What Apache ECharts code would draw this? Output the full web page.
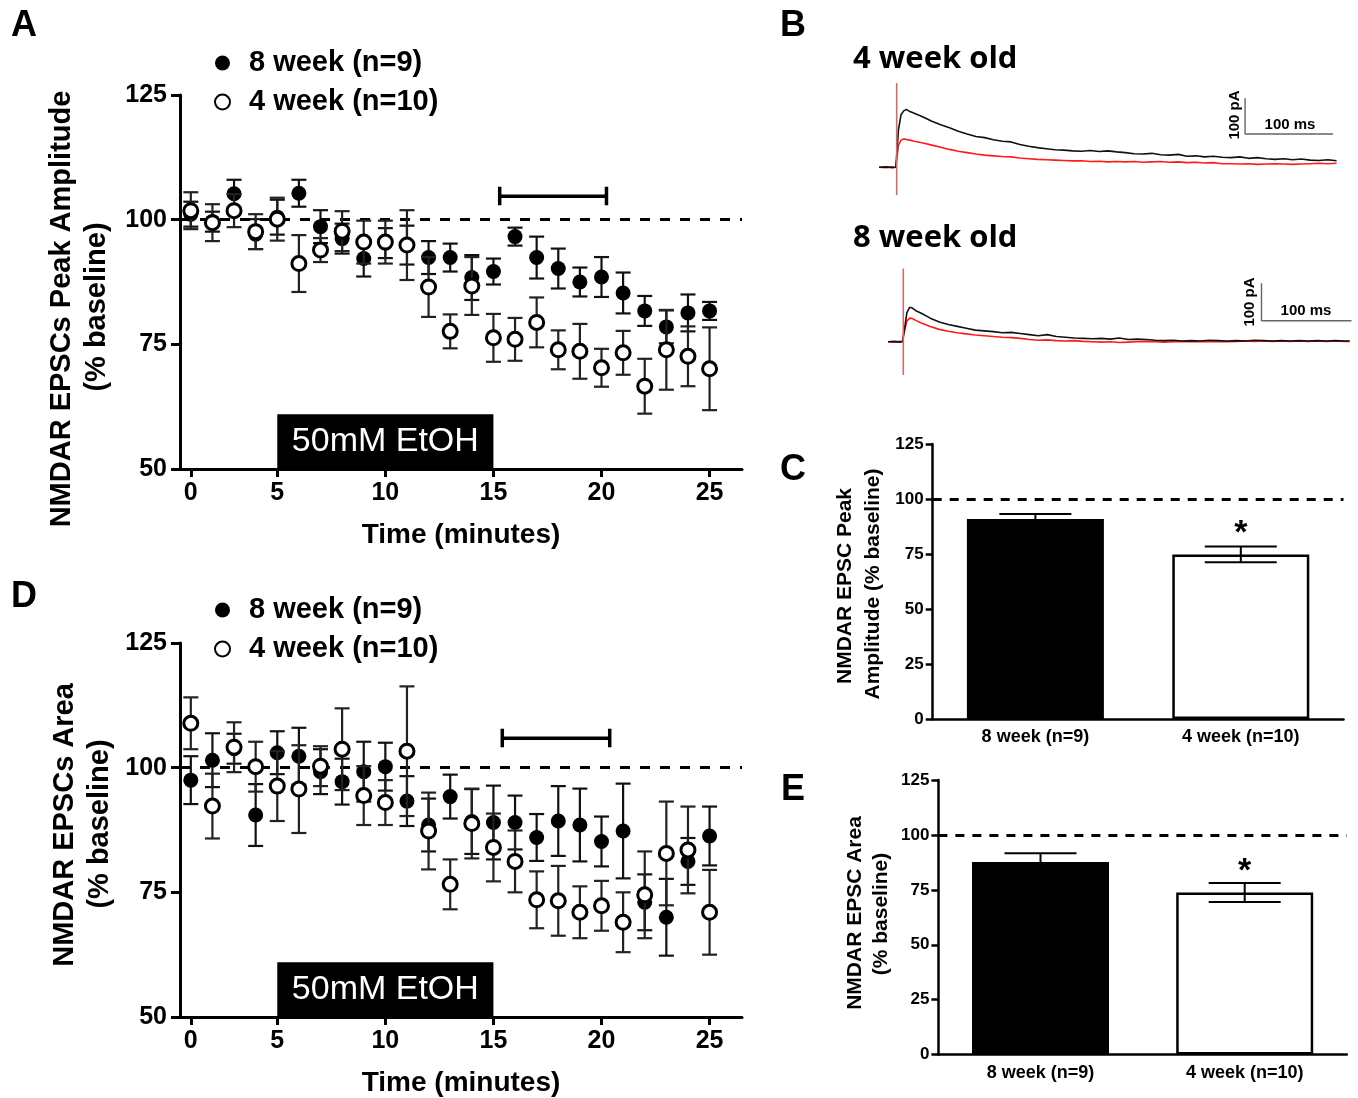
<!DOCTYPE html>
<html>
<head>
<meta charset="utf-8">
<script src="https://cdn.jsdelivr.net/npm/echarts@6/dist/echarts.min.js"></script>
<style>html,body{margin:0;padding:0;background:#fff;}#c{width:1358px;height:1098px;}</style>
</head>
<body>
<div id="c"></div>
<script>
// ---------- time-course data (points at t = 1..25, first tick labelled "0") ----------
const times = [1,2,3,4,5,6,7,8,9,10,11,12,13,14,15,16,17,18,19,20,21,22,23,24,25];
const xTickVals = [1, 5, 10, 15, 20, 25];
const xTickLabels = ['0', '5', '10', '15', '20', '25'];
const yTickInterval = 25;

// Panel A: peak amplitude (% baseline)
const peak8Mean = [101.1,99.6,105.2,97.1,100.5,105.3,98.6,96.2,92.2,95.3,94.9,92.4,92.4,88.4,89.6,96.6,92.4,90.2,87.5,88.5,85.3,81.7,78.5,81.3,81.7];
const peak8Sem  = [2.5,2,2.8,3,3.5,2.7,3.3,3,3.6,3,3.9,3.3,2.8,4.5,2.6,1.8,4.2,4,2.9,4,4.1,3,3.3,3.7,1.8];
const peak4Mean = [101.8,99.4,101.8,97.6,100.1,91.2,93.9,97.7,95.5,95.5,94.9,86.5,77.6,86.7,76.3,76.0,79.4,73.9,73.6,70.3,73.3,66.6,73.9,72.6,70.1];
const peak4Sem  = [3.7,3.7,3.3,3.5,4.3,5.7,2.4,4,4.3,4.3,7,6,3.4,5.8,4.8,4.3,5,3.9,5.5,3.8,4.4,5.5,8,6,8.3];

// Panel D: area (% baseline)
const area8Mean = [97.5,101.5,103.8,90.5,103.0,102.3,99.2,97.2,99.2,100.2,93.3,88.5,94.2,89.2,89.0,89.0,86.0,89.3,88.5,85.2,87.3,73.0,70.0,81.2,86.3];
const area8Sem  = [4.8,5.4,3,6.2,4.3,5.7,4.5,4.6,6,4.8,5,5.3,4.4,6.5,7.4,5.4,4.7,7,7.3,5,9.5,5.6,7.7,4.7,5.9];
const area4Mean = [108.9,92.3,104.1,100.2,96.3,95.7,100.3,103.7,94.4,93.0,103.3,87.3,76.6,88.8,84.0,81.2,73.5,73.3,71.0,72.3,69.0,74.5,82.8,83.5,71.0];
const area4Sem  = [5.2,6.5,5,5,7,8.8,4,8.2,5.9,4.5,13,7.7,5,7,6.8,6.2,5.7,7,5.2,5,6,8.7,10.4,8.7,8.5];

const etohStart = 5, etohEnd = 15, etohTop = 61;
const bracketA = [15.29, 20.23], bracketAY = [102.9, 104.7, 106.6];
const bracketD = [15.41, 20.38], bracketDY = [104.1, 105.9, 107.8];

// Panel C / E bars
const barCats = ['8 week (n=9)', '4 week (n=10)'];
const peakBarMean = [90.9, 74.8];
const peakBarSem  = [2.3, 3.6];
const areaBarMean = [87.7, 73.8];
const areaBarSem  = [4.0, 4.3];

// Panel B traces (ms, pA)
const t4 = [-20,-12,-5,-1,2,5,8,11,15,20,30,40,50,60,70,80,90,100,110,120,130,140,150,160,170,180,190,200,210,220,230,240,250,260,270,280,290,300,310,320,330,340,350,360,370,380,390,400,410,420,430,440,450,460,470,480,490,500];
const base4 = [0,1,-1,0,105,148,158,162,156,151,141,129,119,111,101,93,86,83,77,73,71,64,59,55,52,49,48,46,45,47,44,46,43,41,38,37,39,35,34,36,31,32,29,31,28,27,29,25,27,24,22,24,21,23,20,19,21,18];
const etoh4 = [0,-1,1,0,62,76,79,78,76,73,68,62,56,50,45,41,37,34,32,30,29,26,24,22,21,20,19,18,18,16,17,15,16,15,16,14,15,16,14,15,13,14,12,13,10,10,9,10,8,9,10,9,8,9,10,11,10,11];
const t8 = [-17,-10,-4,-1,2,4,7,10,14,20,30,40,50,60,70,80,90,100,110,120,130,140,150,160,170,180,190,200,210,220,230,240,250,260,270,280,290,300,310,320,330,340,350,360,370,380,390,400,410,420,430,440,450,460,470,480,490,496];
const base8 = [0,1,-1,0,45,78,92,90,83,76,63,53,46,41,36,31,29,27,24,25,22,19,16,19,14,12,10,9,8,9,7,10,6,7,6,4,3,4,2,3,2,4,3,2,3,2,4,3,2,3,2,3,2,3,2,3,2,2];
const etoh8 = [0,-1,1,0,35,55,63,62,57,50,41,33,28,24,21,18,16,14,12,11,9,6,4,5,3,2,3,1,0,-1,0,-2,-1,0,1,0,-1,0,1,0,1,0,1,0,1,2,1,2,1,2,1,2,1,2,1,2,1,1];
const artifact4 = [236, -78], artifact8 = [196, -89];
const scaleBar4 = [[396,193],[396,93],[496,93]];
const scaleBar8 = [[398,156],[398,56],[498,56]];

// ---------- helpers ----------
const FONT = 'Liberation Sans, Arial, sans-serif';
function errData(xs, m, s) { return xs.map((x, i) => [x, m[i] - s[i], m[i] + s[i]]); }
function pts(xs, ys) { return xs.map((x, i) => [x, ys[i]]); }
function errRender(capHalf, color, lw) {
  return function (params, api) {
    const x = api.value(0), lo = api.value(1), hi = api.value(2);
    const a = api.coord([x, lo]), b = api.coord([x, hi]);
    const st = { stroke: color, lineWidth: lw };
    return { type: 'group', children: [
      { type: 'line', shape: { x1: a[0], y1: a[1], x2: b[0], y2: b[1] }, style: st },
      { type: 'line', shape: { x1: a[0] - capHalf, y1: a[1], x2: a[0] + capHalf, y2: a[1] }, style: st },
      { type: 'line', shape: { x1: b[0] - capHalf, y1: b[1], x2: b[0] + capHalf, y2: b[1] }, style: st }
    ]};
  };
}
function timeXAxis(grid) {
  return {
    type: 'value', gridIndex: grid, min: 0.5, max: 26.5,
    axisLine: { onZero: false, lineStyle: { color: '#000', width: 3 } },
    axisTick: { customValues: xTickVals, length: 8, lineStyle: { color: '#000', width: 3 } },
    axisLabel: { customValues: xTickVals, formatter: v => xTickLabels[xTickVals.indexOf(v)],
      color: '#000', fontSize: 25, fontWeight: 'bold', margin: 12, fontFamily: FONT },
    splitLine: { show: false },
    name: 'Time (minutes)', nameLocation: 'middle', nameGap: 52,
    nameTextStyle: { color: '#000', fontSize: 28, fontWeight: 'bold', fontFamily: FONT }
  };
}
function pctYAxis(grid) {
  return {
    type: 'value', gridIndex: grid, min: 50, max: 125, interval: yTickInterval,
    axisLine: { show: true, onZero: false, lineStyle: { color: '#000', width: 3 } },
    axisTick: { show: true, length: 9, lineStyle: { color: '#000', width: 3 } },
    axisLabel: { color: '#000', fontSize: 25, fontWeight: 'bold', margin: 13, fontFamily: FONT },
    splitLine: { show: false }
  };
}
function barXAxis(grid) {
  return {
    type: 'category', gridIndex: grid, data: barCats,
    axisLine: { lineStyle: { color: '#000', width: 2.5 } },
    axisTick: { alignWithLabel: true, length: 7, lineStyle: { color: '#000', width: 2.5 } },
    axisLabel: { color: '#000', fontSize: 18, fontWeight: 'bold', margin: 9, fontFamily: FONT }
  };
}
function barYAxis(grid) {
  return {
    type: 'value', gridIndex: grid, min: 0, max: 125, interval: yTickInterval,
    axisLine: { show: true, lineStyle: { color: '#000', width: 2.5 } },
    axisTick: { show: true, length: 7, lineStyle: { color: '#000', width: 2.5 } },
    axisLabel: { color: '#000', fontSize: 17, fontWeight: 'bold', margin: 9, fontFamily: FONT },
    splitLine: { show: false }
  };
}
function hiddenAxis(grid, min, max) {
  return { type: 'value', gridIndex: grid, min: min, max: max, show: false, splitLine: { show: false } };
}
const dash100 = (w, d) => ({ silent: true, symbol: 'none', label: { show: false },
  lineStyle: { color: '#000', width: w, type: d }, data: [{ yAxis: 100 }] });
const etohArea = { silent: true, itemStyle: { color: '#000' },
  label: { show: true, position: 'inside', formatter: '50mM EtOH', color: '#fff', fontSize: 34, fontFamily: FONT },
  data: [[{ xAxis: etohStart, yAxis: 50 }, { xAxis: etohEnd, yAxis: etohTop }]] };
function bracket(xr, yr) {
  return [[xr[0], yr[2]], [xr[0], yr[0]], [xr[0], yr[1]], [xr[1], yr[1]], [xr[1], yr[2]], [xr[1], yr[0]]];
}
const filledStyle = { color: '#000', opacity: 1 };
const openStyle = { color: '#fff', borderColor: '#000', borderWidth: 3, opacity: 1 };

function timeSeries(g, m8, s8, m4, s4, br, brY, xi) {
  return [
    { type: 'line', xAxisIndex: xi, yAxisIndex: xi, data: bracket(br, brY), symbol: 'none',
      lineStyle: { color: '#000', width: 3.5 }, silent: true, animation: false },
    { type: 'custom', xAxisIndex: xi, yAxisIndex: xi, renderItem: errRender(7.5, '#111', 2.2),
      encode: { x: 0, y: [1, 2] }, data: errData(times, m8, s8), silent: true, z: 3 },
    { type: 'scatter', name: '8 week (n=9)', xAxisIndex: xi, yAxisIndex: xi, data: pts(times, m8),
      symbol: 'circle', symbolSize: 15, itemStyle: filledStyle, z: 4,
      markLine: dash100(3, [10, 10]), markArea: etohArea },
    { type: 'custom', xAxisIndex: xi, yAxisIndex: xi, renderItem: errRender(7.5, '#222', 2.2),
      encode: { x: 0, y: [1, 2] }, data: errData(times, m4, s4), silent: true, z: 5 },
    { type: 'scatter', name: '4 week (n=10)', xAxisIndex: xi, yAxisIndex: xi, data: pts(times, m4),
      symbol: 'circle', symbolSize: 14, itemStyle: openStyle, z: 6 }
  ];
}
function barSeries(xi, means, sems) {
  return [
    { type: 'bar', xAxisIndex: xi, yAxisIndex: xi, barWidth: 137, z: 2,
      data: [
        { value: means[0], itemStyle: { color: '#000' } },
        { value: means[1], itemStyle: { color: '#fff', borderColor: '#000', borderWidth: 2.5 },
          label: { show: true, position: 'top', distance: 4, formatter: '*', fontSize: 34,
            fontWeight: 'bold', color: '#000', fontFamily: FONT } }
      ],
      markLine: dash100(3, [9, 8]) },
    { type: 'custom', xAxisIndex: xi, yAxisIndex: xi, renderItem: errRender(36, '#000', 2),
      encode: { x: 0, y: [1, 2] }, data: errData([0, 1], means, sems), silent: true, z: 5 }
  ];
}
function traceSeries(xi, t, base, etoh, art, sb) {
  return [
    { type: 'line', xAxisIndex: xi, yAxisIndex: xi, data: pts(t, etoh), symbol: 'none',
      lineStyle: { color: '#ff1a1a', width: 1.6 }, silent: true },
    { type: 'line', xAxisIndex: xi, yAxisIndex: xi, data: pts(t, base), symbol: 'none',
      lineStyle: { color: '#111', width: 1.6 }, silent: true },
    { type: 'line', xAxisIndex: xi, yAxisIndex: xi, data: [[0, art[0]], [0, art[1]]], symbol: 'none',
      lineStyle: { color: '#c77070', width: 1.6 }, silent: true },
    { type: 'line', xAxisIndex: xi, yAxisIndex: xi, data: sb, symbol: 'none',
      lineStyle: { color: '#666', width: 1.4 }, silent: true }
  ];
}
const legendText = { color: '#000', fontSize: 29, fontWeight: 'bold', fontFamily: FONT, lineHeight: 30, padding: [0, 0, 0, 14] };
function txt(x, y, s, size, opts) {
  return Object.assign({ type: 'text', x: x, y: y, silent: true,
    style: Object.assign({ text: s, fill: '#000', font: 'bold ' + size + 'px ' + FONT, align: 'center', verticalAlign: 'middle' }, opts && opts.style || {}) },
    opts && opts.el || {});
}
const rot = { el: { rotation: Math.PI / 2 } };

const chart = echarts.init(document.getElementById('c'), null, { renderer: 'canvas' });
chart.setOption({
  animation: false,
  textStyle: { fontFamily: FONT },
  grid: [
    { left: 180, top: 95, width: 562, height: 374 },
    { left: 180, top: 643, width: 562, height: 374 },
    { left: 879.1, top: 81.6, width: 461, height: 114.2 },
    { left: 888, top: 266.9, width: 465.3, height: 108.5 },
    { left: 932.7, top: 444, width: 410.8, height: 275 },
    { left: 938.4, top: 780, width: 408.4, height: 274.6 }
  ],
  xAxis: [timeXAxis(0), timeXAxis(1), hiddenAxis(2, -20, 504), hiddenAxis(3, -17, 500), barXAxis(4), barXAxis(5)],
  yAxis: [pctYAxis(0), pctYAxis(1), hiddenAxis(2, -80, 240), hiddenAxis(3, -90, 200), barYAxis(4), barYAxis(5)],
  legend: [
    { data: ['8 week (n=9)', '4 week (n=10)'], orient: 'vertical', left: 209, top: 43, itemWidth: 15, itemHeight: 15,
      itemGap: 9, selectedMode: false, textStyle: legendText },
    { data: ['8 week (n=9)', '4 week (n=10)'], orient: 'vertical', left: 209, top: 590, itemWidth: 15, itemHeight: 15,
      itemGap: 9, selectedMode: false, textStyle: legendText }
  ],
  series: [].concat(
    timeSeries(0, peak8Mean, peak8Sem, peak4Mean, peak4Sem, bracketA, bracketAY, 0),
    timeSeries(1, area8Mean, area8Sem, area4Mean, area4Sem, bracketD, bracketDY, 1),
    traceSeries(2, t4, base4, etoh4, artifact4, scaleBar4),
    traceSeries(3, t8, base8, etoh8, artifact8, scaleBar8),
    barSeries(4, peakBarMean, peakBarSem),
    barSeries(5, areaBarMean, areaBarSem)
  ),
  graphic: [
    txt(24, 26, 'A', 36), txt(793, 26, 'B', 36), txt(793, 470, 'C', 36),
    txt(24, 597, 'D', 36), txt(793, 790, 'E', 36),
    txt(62, 309, 'NMDAR EPSCs Peak Amplitude', 29, rot),
    txt(97, 307, '(% baseline)', 29, rot),
    txt(65, 825, 'NMDAR EPSCs Area', 29, rot),
    txt(100, 824, '(% baseline)', 29, rot),
    txt(845, 586, 'NMDAR EPSC Peak', 21, rot),
    txt(873, 584, 'Amplitude (% baseline)', 21, rot),
    txt(855, 913, 'NMDAR EPSC Area', 21, rot),
    txt(881, 914, '(% baseline)', 21, rot),
    txt(853, 59, '4 week old', 31, { style: { align: 'left', font: 'bold 31px "Open Sans", sans-serif' } }),
    txt(853, 238, '8 week old', 31, { style: { align: 'left', font: 'bold 31px "Open Sans", sans-serif' } }),
    txt(1235, 115, '100 pA', 15, rot),
    txt(1290, 125, '100 ms', 15),
    txt(1250, 302, '100 pA', 15, rot),
    txt(1306, 311, '100 ms', 15)
  ]
});
</script>
</body>
</html>
